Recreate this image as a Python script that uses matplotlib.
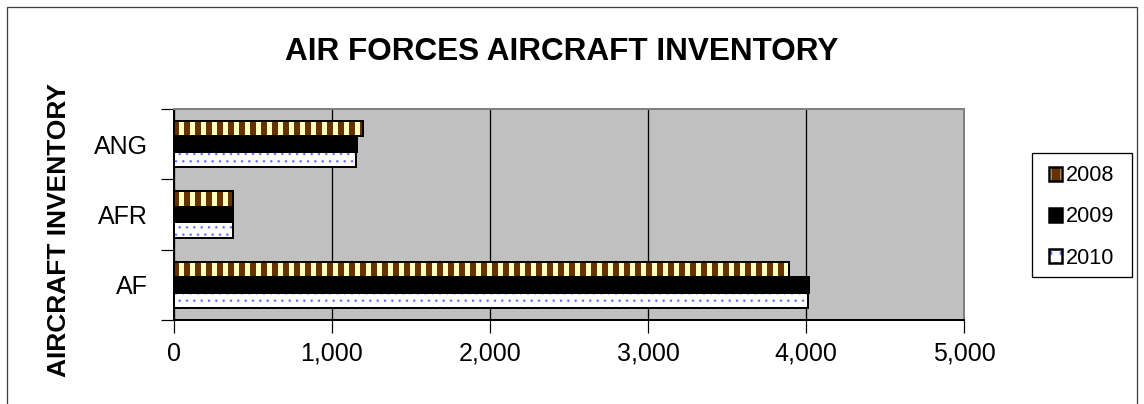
import numpy as np
import matplotlib.pyplot as plt
from matplotlib.patches import Patch, Rectangle

plt.rcParams["font.family"] = ["Liberation Sans", "DejaVu Sans"]

# Data
categories = ["AF", "AFR", "ANG"]
years = ["2008", "2009", "2010"]
inv_2008 = [3895, 375, 1197]
inv_2009 = [4021, 376, 1159]
inv_2010 = [4015, 373, 1150]

DPI = 132
px = 72.0 / DPI  # points per pixel

fig = plt.figure(figsize=(1144 / DPI, 404 / DPI), dpi=DPI)
ax = fig.add_axes([174 / 1144, 1 - 320 / 404, 790 / 1144, 211 / 404])
ax.set_facecolor("#C0C0C0")

y = np.arange(len(categories))
h = 0.22

# 2008: brown with light yellow stripes
b08 = ax.barh(y + h, inv_2008, h, color="#663300", edgecolor="#FFFFC0",
              linewidth=0, hatch="||", zorder=2)
# 2009: solid black
b09 = ax.barh(y, inv_2009, h, color="black", edgecolor="black",
              linewidth=0, zorder=2)
# 2010: white with blue dots
b10 = ax.barh(y - h, inv_2010, h, color="white", edgecolor="#7070FF",
              linewidth=0, hatch="...", zorder=2)

for p in b08:
    if hasattr(p, "set_hatch_linewidth"):
        p.set_hatch_linewidth(5 * px)
for p in b10:
    if hasattr(p, "set_hatch_linewidth"):
        p.set_hatch_linewidth(1.0 * px)

# black outlines on top
for off, vals in [(h, inv_2008), (0, inv_2009), (-h, inv_2010)]:
    ax.barh(y + off, vals, h, fill=False, edgecolor="black",
            linewidth=2 * px, zorder=3)

ax.set_xlim(0, 5000)
ax.set_ylim(-0.5, 2.5)
ax.set_xticks(np.arange(0, 5001, 1000))
ax.set_xticklabels([f"{v:,}" for v in range(0, 5001, 1000)])
ax.set_yticks(y)
ax.set_yticklabels(categories)
ax.set_yticks(np.arange(-0.5, 2.6, 1), minor=True)
ax.tick_params(axis="y", which="major", length=0, pad=26 * px,
               labelsize=25 * px)
ax.tick_params(axis="y", which="minor", length=7, width=1.2 * px,
               direction="out", color="black")
ax.tick_params(axis="x", which="major", length=7, width=1.2 * px,
               direction="out", pad=9 * px, labelsize=25 * px)

ax.grid(axis="x", color="black", linewidth=1.3 * px, zorder=1)
ax.set_axisbelow(True)

for s in ["left", "bottom"]:
    ax.spines[s].set_color("black")
    ax.spines[s].set_linewidth(2 * px)
for s in ["top", "right"]:
    ax.spines[s].set_color("#808080")
    ax.spines[s].set_linewidth(2 * px)

fig.text(561.5 / 1144, 1 - 60 / 404, "AIR FORCES AIRCRAFT INVENTORY",
         ha="center", va="baseline", fontsize=31.5 * px, fontweight="bold")
fig.text(59 / 1144, 1 - 230 / 404, "AIRCRAFT INVENTORY", rotation=90,
         ha="center", va="center", fontsize=26.4 * px, fontweight="bold")

# legend
handles = [
    (Patch(facecolor="#663300", edgecolor="#FFFFC0", hatch="||", linewidth=0),
     Patch(fill=False, edgecolor="black", linewidth=2.5 * px)),
    Patch(facecolor="black", edgecolor="black", linewidth=2.5 * px),
    (Patch(facecolor="white", edgecolor="#7070FF", hatch="..", linewidth=0),
     Patch(fill=False, edgecolor="black", linewidth=2.5 * px)),
]
fig.legend(handles, years, loc="center left",
           bbox_to_anchor=(1049 / 1144, 1 - 217 / 404),
           fontsize=21.6 * px, frameon=False,
           handlelength=0.62, handleheight=0.6, handletextpad=0.15,
           labelspacing=0.93, borderpad=0, borderaxespad=0)
# legend box
fig.patches.append(Rectangle((1032 / 1144, 1 - 277 / 404), 100 / 1144,
                             124 / 404, transform=fig.transFigure,
                             fill=False, edgecolor="black",
                             linewidth=1.3 * px))

# outer chart border
fig.patches.append(Rectangle((7 / 1144, -0.1), 1130 / 1144, 1.1 - 7 / 404,
                             transform=fig.transFigure, fill=False,
                             edgecolor="#404040", linewidth=1.3 * px))

fig.savefig("out.png", dpi=DPI)
